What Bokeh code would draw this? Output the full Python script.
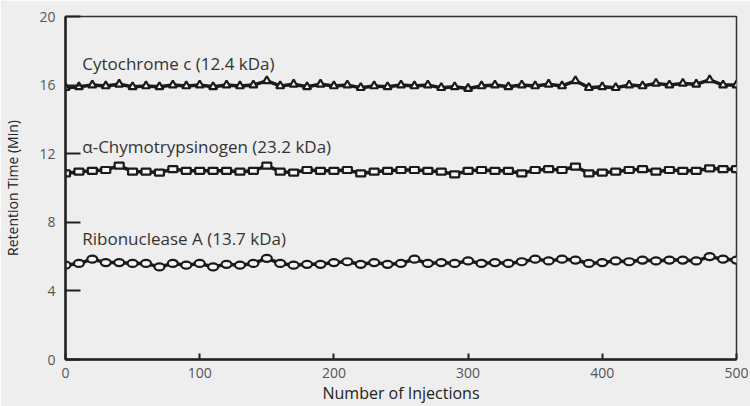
from bokeh.plotting import figure
from bokeh.models import Range1d, FixedTicker, ColumnDataSource
from bokeh.core.properties import value
from bokeh.embed import file_html
from bokeh.resources import INLINE

injections = list(range(0, 501, 10))

cytochrome = [15.85, 15.9, 16.0, 15.95, 16.05, 15.9, 15.95, 15.9, 16.0, 15.95,
              16.0, 15.9, 16.0, 15.95, 16.0, 16.25, 15.95, 16.05, 15.9, 16.05,
              15.95, 16.0, 15.85, 15.95, 15.9, 16.0, 15.95, 16.0, 15.85, 15.9,
              15.8, 15.95, 16.0, 15.9, 16.0, 15.95, 16.05, 15.95, 16.25, 15.85,
              15.9, 15.85, 16.0, 15.95, 16.1, 16.0, 16.1, 16.05, 16.3, 16.0, 16.0]

chymo = [10.85, 10.95, 11.0, 11.05, 11.3, 10.95, 10.95, 10.9, 11.1, 11.0,
         11.0, 11.0, 11.0, 10.95, 11.0, 11.3, 10.95, 10.9, 11.05, 11.0,
         11.0, 11.05, 10.85, 10.95, 11.0, 11.05, 11.05, 11.0, 10.95, 10.8,
         11.0, 11.05, 11.0, 11.0, 10.85, 11.05, 11.1, 11.05, 11.25, 10.85,
         10.9, 10.95, 11.05, 11.1, 10.95, 11.05, 11.0, 11.0, 11.15, 11.1, 11.1]

ribo = [5.5, 5.6, 5.85, 5.65, 5.65, 5.6, 5.6, 5.4, 5.6, 5.5,
        5.6, 5.4, 5.55, 5.5, 5.6, 5.9, 5.6, 5.5, 5.55, 5.55,
        5.65, 5.7, 5.55, 5.65, 5.55, 5.6, 5.85, 5.6, 5.65, 5.6,
        5.75, 5.6, 5.65, 5.6, 5.7, 5.85, 5.75, 5.85, 5.8, 5.6,
        5.65, 5.75, 5.7, 5.8, 5.75, 5.8, 5.8, 5.75, 6.0, 5.85, 5.8]

label_texts = ["Cytochrome c (12.4 kDa)", "\u03b1-Chymotrypsinogen (23.2 kDa)", "Ribonuclease A (13.7 kDa)"]
label_x = [12.5, 12.5, 12.5]
label_y = [17.25, 12.4, 7.05]

x_ticks = [0, 100, 200, 300, 400, 500]
y_ticks = [0, 4, 8, 12, 16, 20]

BG = "#eeeeee"
FONT = "Open Sans"
INK = "#1a1a1a"
FILL = "#f6f6f6"

p = figure(width=750, height=406, output_backend="svg", toolbar_location=None,
           x_range=Range1d(0, 500), y_range=Range1d(0, 20),
           min_border_left=63, min_border_right=14, min_border_top=16, min_border_bottom=44)
p.background_fill_color = BG
p.border_fill_color = BG
p.outline_line_color = "#333333"
p.outline_line_width = 1.5
p.xgrid.visible = False
p.ygrid.visible = False

for ax in (p.xaxis[0], p.yaxis[0]):
    ax.axis_line_color = "#222222"
    ax.axis_line_width = 2.5
    ax.major_tick_line_color = "#222222"
    ax.major_tick_line_width = 2
    ax.major_tick_out = 0
    ax.minor_tick_line_color = None
    ax.major_label_text_font = FONT
    ax.major_label_text_font_size = "14px"
    ax.major_label_text_color = "#555555"
    ax.major_label_text_font_style = "normal"
    ax.axis_label_text_font = FONT
    ax.axis_label_text_font_style = "normal"
    ax.axis_label_text_color = "#222222"

p.xaxis.axis_label_text_font_size = "16px"
p.yaxis.axis_label_text_font_size = "14px"
p.xaxis.ticker = FixedTicker(ticks=x_ticks)
p.yaxis.ticker = FixedTicker(ticks=y_ticks)
p.xaxis.major_tick_in = 6
p.yaxis.major_tick_in = 15
p.xaxis.major_label_standoff = 8
p.yaxis.major_label_standoff = 10
p.xaxis.axis_label = "Number of Injections"
p.yaxis.axis_label = "Retention Time (Min)"
p.xaxis.axis_label_standoff = 1
p.yaxis.axis_label_standoff = 14

src = ColumnDataSource(dict(x=injections, c=cytochrome, m=chymo, r=ribo))

p.line("x", "c", source=src, line_color=INK, line_width=3.5)
p.scatter("x", "c", source=src, marker="triangle", size=8, fill_color=FILL,
          line_color=INK, line_width=2.2)
p.line("x", "m", source=src, line_color=INK, line_width=3.5)
p.rect("x", "m", width=9, height=6, width_units="screen", height_units="screen",
       source=src, fill_color=FILL, line_color=INK, line_width=2.2)
p.line("x", "r", source=src, line_color=INK, line_width=3.5)
p.ellipse("x", "r", width=10, height=7, width_units="screen", height_units="screen",
          source=src, fill_color=FILL, line_color=INK, line_width=2.2)

lsrc = ColumnDataSource(dict(x=label_x, y=label_y, t=label_texts))
p.text("x", "y", text="t", source=lsrc, text_font=value(FONT), text_font_size="17px",
       text_color="#333333", text_baseline="middle", text_align="left")

open("out.html", "w").write(file_html(p, INLINE))
